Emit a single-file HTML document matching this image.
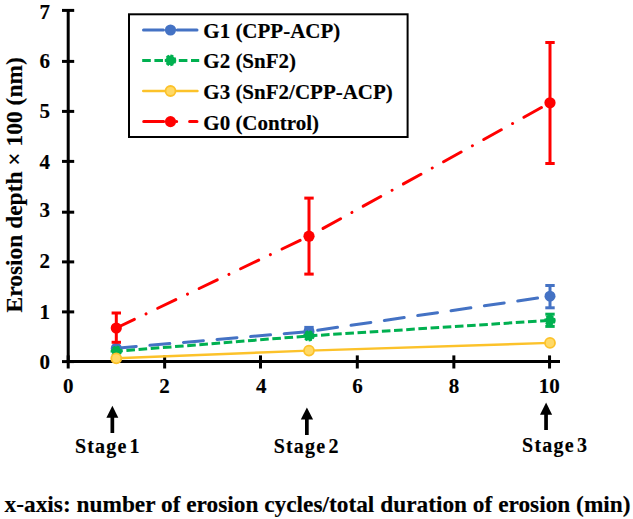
<!DOCTYPE html>
<html><head><meta charset="utf-8">
<style>
html,body{margin:0;padding:0;background:#fff;}
svg{display:block;}
text{font-family:"Liberation Serif",serif;font-weight:bold;fill:#000;stroke:#000;stroke-width:0.15px;}
</style></head>
<body>
<svg width="633" height="519" viewBox="0 0 633 519">
<rect width="633" height="519" fill="#fff"/>
<g stroke="#000" stroke-width="3" fill="none">
<line x1="68.2" y1="9" x2="68.2" y2="363"/>
<line x1="66.5" y1="361.6" x2="560" y2="361.6"/>
<line x1="62" y1="361.6" x2="74.2" y2="361.6"/>
<line x1="62" y1="311.9" x2="74.2" y2="311.9"/>
<line x1="62" y1="261.9" x2="74.2" y2="261.9"/>
<line x1="62" y1="212.2" x2="74.2" y2="212.2"/>
<line x1="62" y1="161.4" x2="74.2" y2="161.4"/>
<line x1="62" y1="111.4" x2="74.2" y2="111.4"/>
<line x1="62" y1="61.4" x2="74.2" y2="61.4"/>
<line x1="62" y1="10.4" x2="74.2" y2="10.4"/>
<line x1="68.2" y1="355.4" x2="68.2" y2="368.5"/>
<line x1="164.65" y1="355.4" x2="164.65" y2="368.5"/>
<line x1="260.5" y1="355.4" x2="260.5" y2="368.5"/>
<line x1="357.3" y1="355.4" x2="357.3" y2="368.5"/>
<line x1="453.85" y1="355.4" x2="453.85" y2="368.5"/>
<line x1="549.55" y1="355.4" x2="549.55" y2="368.5"/>
</g>
<g font-size="21" text-anchor="end">
<text x="50" y="18.8">7</text>
<text x="50" y="67.8">6</text>
<text x="50" y="117.5">5</text>
<text x="50" y="168.55">4</text>
<text x="50" y="217.45">3</text>
<text x="50" y="268.0">2</text>
<text x="50" y="319.1">1</text>
<text x="50" y="369.1">0</text>
</g>
<g font-size="21" text-anchor="middle">
<text x="68.2" y="393">0</text>
<text x="164.54" y="393">2</text>
<text x="261.28" y="393">4</text>
<text x="357.47" y="393">6</text>
<text x="453.96" y="393">8</text>
<text x="549.2" y="393">10</text>
</g>
<text font-size="23.45" transform="translate(22,312.4) rotate(-90)">Erosion depth × 100 (nm)</text>
<polyline points="116.3,348.2 309.0,331.5 550.0,296.2" fill="none" stroke="#4472C4" stroke-width="3" stroke-dasharray="20 13.7" stroke-linecap="round"/>
<g stroke="#4472C4" stroke-width="3"><line x1="550.0" y1="285.5" x2="550.0" y2="307.8"/><line x1="545.3" y1="285.5" x2="554.7" y2="285.5"/><line x1="545.3" y1="307.8" x2="554.7" y2="307.8"/><line x1="309.0" y1="327.4" x2="309.0" y2="335"/><line x1="304.3" y1="327.4" x2="313.7" y2="327.4"/></g>
<circle cx="116.3" cy="348.2" r="5.5" fill="#4472C4"/>
<circle cx="309.0" cy="331.5" r="5.5" fill="#4472C4"/>
<circle cx="550.0" cy="296.2" r="5.5" fill="#4472C4"/>
<polyline points="116.3,351.3 309.0,335.9 550.0,320.4" fill="none" stroke="#00B050" stroke-width="3" stroke-dasharray="8.6 3.6" stroke-dashoffset="2.07"/>
<g stroke="#00B050" stroke-width="3"><line x1="550.0" y1="314.2" x2="550.0" y2="326.4"/><line x1="545.3" y1="314.2" x2="554.7" y2="314.2"/><line x1="545.3" y1="326.4" x2="554.7" y2="326.4"/></g>
<circle cx="116.3" cy="351.3" r="4.7" fill="#00B050" stroke="#00B050" stroke-width="2" stroke-dasharray="3 1.4"/>
<circle cx="309.0" cy="335.9" r="4.7" fill="#00B050" stroke="#00B050" stroke-width="2" stroke-dasharray="3 1.4"/>
<circle cx="550.0" cy="320.4" r="4.7" fill="#00B050" stroke="#00B050" stroke-width="2" stroke-dasharray="3 1.4"/>
<polyline points="116.3,358.3 309.0,350.6 550.0,342.9" fill="none" stroke="#FCC22A" stroke-width="2.4"/>
<circle cx="116.3" cy="358.3" r="5" fill="#FFD966" stroke="#FCC22A" stroke-width="1.8"/>
<circle cx="309.0" cy="350.6" r="5" fill="#FFD966" stroke="#FCC22A" stroke-width="1.8"/>
<circle cx="550.0" cy="342.9" r="5" fill="#FFD966" stroke="#FCC22A" stroke-width="1.8"/>
<polyline points="116.3,328 309.0,236.2 550.0,102.8" fill="none" stroke="#FF0000" stroke-width="3" stroke-dasharray="20 12.95 0.01 12.95" stroke-linecap="round"/>
<g stroke="#FF0000" stroke-width="3"><line x1="116.3" y1="313" x2="116.3" y2="342.3"/><line x1="111.6" y1="313" x2="121.0" y2="313"/><line x1="111.6" y1="342.3" x2="121.0" y2="342.3"/><line x1="309.0" y1="198.1" x2="309.0" y2="274.1"/><line x1="304.3" y1="198.1" x2="313.7" y2="198.1"/><line x1="304.3" y1="274.1" x2="313.7" y2="274.1"/><line x1="550.0" y1="42.5" x2="550.0" y2="163.5"/><line x1="545.3" y1="42.5" x2="554.7" y2="42.5"/><line x1="545.3" y1="163.5" x2="554.7" y2="163.5"/></g>
<circle cx="116.3" cy="328" r="5.6" fill="#FF0000"/>
<circle cx="309.0" cy="236.2" r="5.6" fill="#FF0000"/>
<circle cx="550.0" cy="102.8" r="5.6" fill="#FF0000"/>
<rect x="129" y="14.3" width="278.6" height="122.7" fill="#fff" stroke="#000" stroke-width="2"/>
<line x1="143.5" y1="30" x2="197" y2="30" stroke="#4472C4" stroke-width="3" stroke-dasharray="20 13.7" stroke-linecap="round"/>
<circle cx="170.5" cy="30" r="5.6" fill="#4472C4"/>
<line x1="142.2" y1="60.4" x2="199.2" y2="60.4" stroke="#00B050" stroke-width="3" stroke-dasharray="8.6 3.6"/>
<circle cx="170.5" cy="60.4" r="4.8" fill="#00B050" stroke="#00B050" stroke-width="2" stroke-dasharray="3 1.4"/>
<line x1="143.2" y1="91" x2="197.5" y2="91" stroke="#FCC22A" stroke-width="2.4" stroke-linecap="round"/>
<circle cx="170.5" cy="91" r="5" fill="#FFD966" stroke="#FCC22A" stroke-width="1.8"/>
<line x1="143.7" y1="121.6" x2="197" y2="121.6" stroke="#FF0000" stroke-width="3" stroke-dasharray="20 12.95 0.01 12.95" stroke-linecap="round"/>
<circle cx="170.5" cy="121.6" r="5.6" fill="#FF0000"/>
<g font-size="21">
<text x="203.3" y="37.9">G1 (CPP-ACP)</text>
<text x="203.3" y="68.4">G2 (SnF2)</text>
<text x="203.3" y="99.3">G3 (SnF2/CPP-ACP)</text>
<text x="203.3" y="129.5">G0 (Control)</text>
</g>
<g fill="#000">
<polygon points="112.4,405.7 118.3,417.8 106.4,417.8"/>
<rect x="110.5" y="417" width="3.7" height="16"/>
<polygon points="306.9,407.6 313.1,419.5 300.8,419.5"/>
<rect x="305" y="419" width="3.7" height="16"/>
<polygon points="546.1,402.6 552.1,414.7 540,414.7"/>
<rect x="544.2" y="414" width="3.7" height="16"/>
</g>
<g font-size="20" letter-spacing="1.2">
<text x="74.9" y="452.5">Stage</text>
<text x="273.7" y="452.7">Stage</text>
<text x="522.1" y="452.2">Stage</text>
</g>
<g font-size="20">
<text x="129.5" y="452.5">1</text>
<text x="328.5" y="452.7">2</text>
<text x="577" y="452.2">3</text>
</g>
<text font-size="23.34" x="4.6" y="511.8">x-axis: number of erosion cycles/total duration of erosion (min)</text>
</svg>
</body></html>
